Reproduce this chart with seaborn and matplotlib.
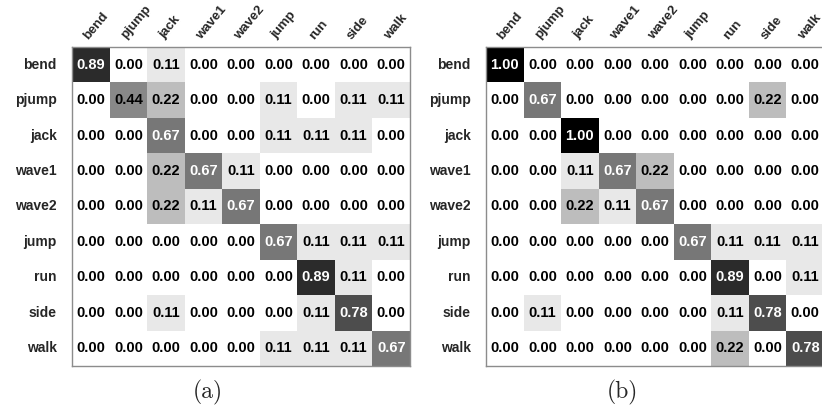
# ============================================================================
# CONFUSION MATRICES (a) / (b)
# ============================================================================

import numpy as np
import pandas as pd
import matplotlib
matplotlib.use("Agg")
import matplotlib.pyplot as plt
import seaborn as sns
from matplotlib.colors import LinearSegmentedColormap

# ============================================================================
# DATA
# ============================================================================

classes = ["bend", "pjump", "jack", "wave1", "wave2", "jump", "run", "side", "walk"]

cm_a = [
    [0.89, 0.00, 0.11, 0.00, 0.00, 0.00, 0.00, 0.00, 0.00],
    [0.00, 0.44, 0.22, 0.00, 0.00, 0.11, 0.00, 0.11, 0.11],
    [0.00, 0.00, 0.67, 0.00, 0.00, 0.11, 0.11, 0.11, 0.00],
    [0.00, 0.00, 0.22, 0.67, 0.11, 0.00, 0.00, 0.00, 0.00],
    [0.00, 0.00, 0.22, 0.11, 0.67, 0.00, 0.00, 0.00, 0.00],
    [0.00, 0.00, 0.00, 0.00, 0.00, 0.67, 0.11, 0.11, 0.11],
    [0.00, 0.00, 0.00, 0.00, 0.00, 0.00, 0.89, 0.11, 0.00],
    [0.00, 0.00, 0.11, 0.00, 0.00, 0.00, 0.11, 0.78, 0.00],
    [0.00, 0.00, 0.00, 0.00, 0.00, 0.11, 0.11, 0.11, 0.67],
]

cm_b = [
    [1.00, 0.00, 0.00, 0.00, 0.00, 0.00, 0.00, 0.00, 0.00],
    [0.00, 0.67, 0.00, 0.00, 0.00, 0.00, 0.00, 0.22, 0.00],
    [0.00, 0.00, 1.00, 0.00, 0.00, 0.00, 0.00, 0.00, 0.00],
    [0.00, 0.00, 0.11, 0.67, 0.22, 0.00, 0.00, 0.00, 0.00],
    [0.00, 0.00, 0.22, 0.11, 0.67, 0.00, 0.00, 0.00, 0.00],
    [0.00, 0.00, 0.00, 0.00, 0.00, 0.67, 0.11, 0.11, 0.11],
    [0.00, 0.00, 0.00, 0.00, 0.00, 0.00, 0.89, 0.00, 0.11],
    [0.00, 0.11, 0.00, 0.00, 0.00, 0.00, 0.11, 0.78, 0.00],
    [0.00, 0.00, 0.00, 0.00, 0.00, 0.00, 0.22, 0.00, 0.78],
]

captions = ["(a)", "(b)"]

# ============================================================================
# STYLE
# ============================================================================

sns.set_style("white")
plt.rcParams["font.family"] = ["Liberation Sans", "DejaVu Sans"]

gray_cmap = LinearSegmentedColormap.from_list(
    "conf_gray",
    [
        (0.00, "#ffffff"),
        (0.11, "#e8e8e8"),
        (0.22, "#bdbdbd"),
        (0.44, "#888888"),
        (0.67, "#777777"),
        (0.78, "#4d4d4d"),
        (0.89, "#2b2b2b"),
        (1.00, "#000000"),
    ]
)

# ============================================================================
# PLOT
# ============================================================================

fig = plt.figure(figsize=(8.22, 4.07), dpi=100)

axes_pos = [
    [72 / 822, 41 / 407, 338 / 822, 319 / 407],
    [486 / 822, 41 / 407, 338 / 822, 319 / 407],
]
caption_x = [208 / 822, 622 / 822]

for data, pos, cap, cx in zip([cm_a, cm_b], axes_pos, captions, caption_x):
    ax = fig.add_axes(pos)
    df = pd.DataFrame(data, index=classes, columns=classes)

    sns.heatmap(
        df,
        ax=ax,
        cmap=gray_cmap,
        vmin=0,
        vmax=1,
        cbar=False,
        annot=True,
        fmt=".2f",
        annot_kws={"fontsize": 10.5, "fontweight": "bold"},
    )

    # text colour: white on the dark cells only
    for txt in ax.texts:
        val = float(txt.get_text())
        txt.set_color("white" if val >= 0.6 else "black")

    ax.xaxis.tick_top()
    ax.tick_params(axis="both", length=0)
    ax.tick_params(axis="x", pad=4)
    ax.tick_params(axis="y", pad=11)

    ax.set_xticklabels(
        classes,
        rotation=50,
        ha="left",
        va="bottom",
        rotation_mode="anchor",
        fontsize=9.5,
        fontweight="bold",
    )
    ax.set_yticklabels(
        classes,
        rotation=0,
        ha="right",
        fontsize=10,
        fontweight="bold",
    )
    ax.set_xlabel("")
    ax.set_ylabel("")

    for spine in ax.spines.values():
        spine.set_visible(True)
        spine.set_color("#8c8c8c")
        spine.set_linewidth(1.0)

    fig.text(
        cx,
        1 - 392 / 407,
        cap,
        ha="center",
        va="center",
        fontsize=17,
        fontfamily="cmr10",
    )

plt.savefig("out.png", dpi=100)
